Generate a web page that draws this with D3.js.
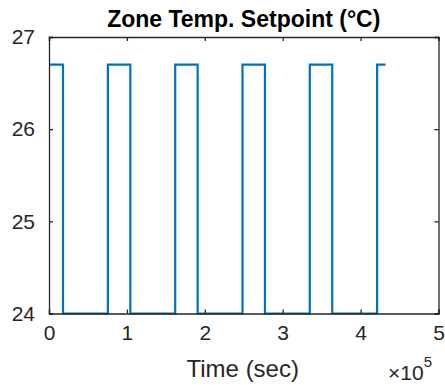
<!DOCTYPE html>
<html>
<head>
<meta charset="utf-8">
<script src="https://cdn.jsdelivr.net/npm/d3@7"></script>
<style>
  body { margin: 0; background: #fff; }
  text { font-family: "Liberation Sans", Arial, Helvetica, sans-serif; fill: #262626; }
</style>
</head>
<body>
<div id="chart"></div>
<script>
"use strict";

// Data
// ----

// switching instants (s) and setpoint held from each instant on (°C)
var times    = [0, 18000, 75600, 104400, 162000, 190800, 248400, 277200, 334800, 363600, 421200, 432000];
var setpoint = [26.7, 24, 26.7, 24, 26.7, 24, 26.7, 24, 26.7, 24, 26.7, 26.7];

var xTicks = [0, 1, 2, 3, 4, 5];      // ×10^5
var yTicks = [24, 25, 26, 27];

var title  = "Zone Temp. Setpoint (°C)",
    xLabel = "Time (sec)";


// Box sizing
// ----------

var W = 445, H = 385,
    boxL = 49, boxR = 438.5,
    boxT = 37, boxB = 313.5,
    tick = 4,
    blue = "#0072BD",
    ink = "#262626";

var svg = d3.select("#chart").append("svg")
    .attr("width", W)
    .attr("height", H);

var x = d3.scaleLinear().domain([0, 5e5]).range([boxL, boxR]),
    y = d3.scaleLinear().domain([24, 27]).range([boxB, boxT]);

var data = times.map(function(t, i) { return { t: t, v: setpoint[i] }; });


// Curve

svg.append("path")
    .datum(data)
    .attr("fill", "none")
    .attr("stroke", blue)
    .attr("stroke-width", 2.2)
    .attr("d", d3.line()
        .curve(d3.curveStepAfter)
        .x(function(d) { return x(d.t); })
        .y(function(d) { return y(d.v); }));


// Axes (MATLAB box, ticks inward)

var fmt = function(d) { return d / 1e5; };
var xVals = xTicks.map(function(d) { return d * 1e5; });

svg.append("g")
    .attr("transform", "translate(0," + boxB + ")")
    .call(d3.axisBottom(x).tickValues(xVals)
        .tickSize(-tick).tickPadding(12).tickFormat(fmt));

svg.append("g")
    .attr("transform", "translate(0," + boxT + ")")
    .call(d3.axisTop(x).tickValues(xVals)
        .tickSize(-tick).tickFormat(""));

svg.append("g")
    .attr("transform", "translate(" + boxL + ",0)")
    .call(d3.axisLeft(y).tickValues(yTicks).tickSize(-tick)
        .tickPadding(14).tickFormat(d3.format("d")));

svg.append("g")
    .attr("transform", "translate(" + boxR + ",0)")
    .call(d3.axisRight(y).tickValues(yTicks).tickSize(-tick).tickFormat(""));

svg.selectAll(".domain, .tick line")
    .attr("stroke", ink)
    .attr("stroke-width", 1.3);

svg.selectAll(".tick text")
    .attr("fill", ink)
    .style("font-size", "21px")
    .style("font-family", "'Liberation Sans', Arial, sans-serif");


// Texts

svg.append("text")
    .attr("x", (boxL + boxR) / 2)
    .attr("y", 27)
    .attr("text-anchor", "middle")
    .style("font-size", "23px")
    .style("font-weight", "bold")
    .style("fill", "#000")
    .text(title);

svg.append("text")
    .attr("x", (boxL + boxR) / 2 - 1)
    .attr("y", 377)
    .attr("text-anchor", "middle")
    .style("font-size", "24px")
    .text(xLabel);

var exp = svg.append("text")
    .attr("x", 388)
    .attr("y", 380)
    .style("font-size", "21px");
exp.append("tspan").text("×10");
exp.append("tspan")
    .attr("dy", -13)
    .style("font-size", "15px")
    .text("5");

</script>
</body>
</html>
